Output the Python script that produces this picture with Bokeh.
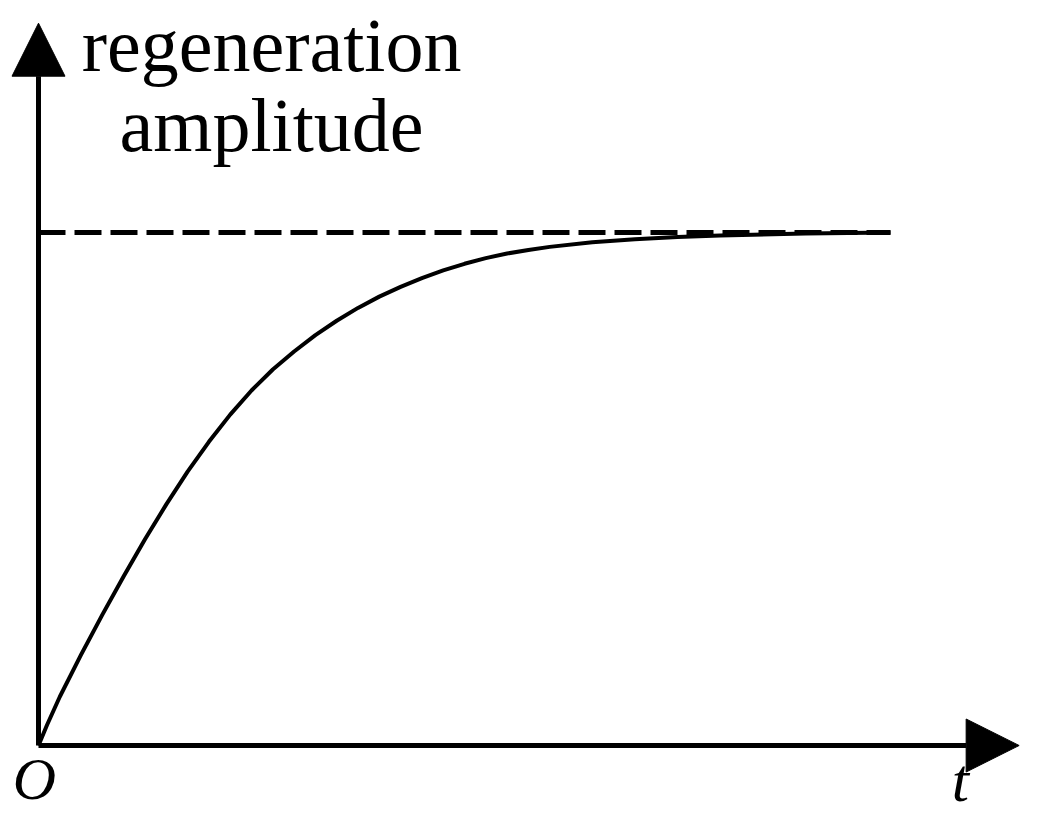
from bokeh.plotting import figure
from bokeh.models import Range1d, Arrow, NormalHead, ColumnDataSource
from bokeh.core.properties import value
from bokeh.embed import file_html
from bokeh.resources import INLINE

# ---- data ----
t_vals = [0, 0.1, 0.25, 0.5, 0.75, 1.0, 1.25, 1.5, 1.75, 2.0, 2.25, 2.5, 2.75, 3.0, 3.25,
          3.5, 3.75, 4.0, 4.25, 4.5, 4.75, 5.0, 5.25, 5.5, 5.75, 6.0, 6.5, 7.0, 7.5, 8.0, 9.0, 10.0]
amp_vals = [0.0, 0.040, 0.095, 0.177, 0.255, 0.330, 0.402, 0.470, 0.534, 0.592, 0.645,
            0.692, 0.733, 0.768, 0.800, 0.828, 0.853, 0.875, 0.894, 0.911, 0.926, 0.939,
            0.950, 0.959, 0.966, 0.972, 0.981, 0.987, 0.991, 0.994, 0.998, 1.0]
asym_t = [0, 10.0]
asym_amp = [1.0, 1.0]
axis_t_end = 11.51
axis_amp_end = 1.408
y_label_lines = ["regeneration", "amplitude"]
y_label_t = [2.735, 2.735]
y_label_amp = [1.312, 1.156]
origin_label = "O"
origin_label_pos = (-0.047, -0.1072)
x_label = "t"
x_label_pos = (10.82, -0.1092)

# ---- layout ----
W, H = 1021, 813
px_per_t = 85.2
px_per_amp = 513.0
ox, oy = 38, 745  # origin in canvas pixels

p = figure(width=W, height=H, output_backend="svg", toolbar_location=None,
           x_range=Range1d(-ox / px_per_t, (W - ox) / px_per_t),
           y_range=Range1d(-(H - oy) / px_per_amp, oy / px_per_amp),
           min_border=0, min_border_left=0, min_border_right=0,
           min_border_top=0, min_border_bottom=0)
p.axis.visible = False
p.grid.visible = False
p.outline_line_color = None
p.background_fill_color = "white"
p.border_fill_color = "white"

# asymptote
p.line(asym_t, asym_amp, line_color="black", line_width=5, line_dash="27 9")
# curve
p.line(t_vals, amp_vals, line_color="black", line_width=4, line_join="round")

# axes with arrows
p.add_layout(Arrow(x_start=0, y_start=0, x_end=axis_t_end, y_end=0,
                   line_color="black", line_width=5,
                   end=NormalHead(size=53, fill_color="black", line_color="black", line_width=1)))
p.add_layout(Arrow(x_start=0, y_start=0, x_end=0, y_end=axis_amp_end,
                   line_color="black", line_width=5,
                   end=NormalHead(size=53, fill_color="black", line_color="black", line_width=1)))

serif = value("Liberation Serif")
src = ColumnDataSource(dict(x=y_label_t, y=y_label_amp, text=y_label_lines))
p.text(x="x", y="y", text="text", source=src, text_font=serif, text_font_size="76px",
       text_align="center", text_baseline="alphabetic", text_color="black", y_offset=-27)

p.text(x=[origin_label_pos[0]], y=[origin_label_pos[1]], text=[origin_label], text_font=serif,
       text_font_size="60px", text_font_style="italic", text_align="center",
       text_baseline="alphabetic", text_color="black", y_offset=-21)
p.text(x=[x_label_pos[0]], y=[x_label_pos[1]], text=[x_label], text_font=serif,
       text_font_size="62px", text_font_style="italic", text_align="center",
       text_baseline="alphabetic", text_color="black", y_offset=-22)

open("out.html", "w").write(file_html(p, INLINE))
